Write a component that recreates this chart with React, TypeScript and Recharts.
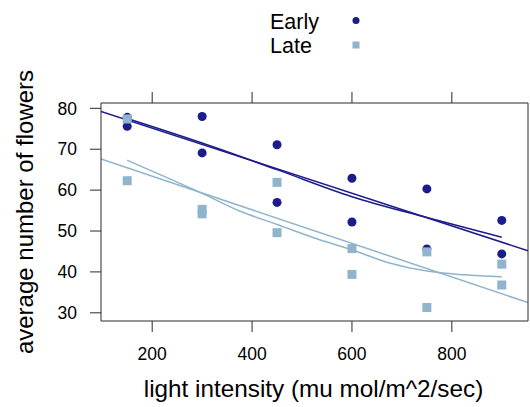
import React from 'react';
import { ComposedChart, Scatter, Line, XAxis, YAxis } from 'recharts';

// Flower counts by light intensity, early vs late timing
const earlyPoints = [
  { x: 150, y: 77.8 }, { x: 150, y: 75.6 },
  { x: 300, y: 69.1 }, { x: 300, y: 78.0 },
  { x: 450, y: 57.0 }, { x: 450, y: 71.1 },
  { x: 600, y: 62.9 }, { x: 600, y: 52.2 },
  { x: 750, y: 60.3 }, { x: 750, y: 45.6 },
  { x: 900, y: 52.6 }, { x: 900, y: 44.4 },
];

const latePoints = [
  { x: 150, y: 62.3 }, { x: 150, y: 77.4 },
  { x: 300, y: 55.3 }, { x: 300, y: 54.2 },
  { x: 450, y: 49.6 }, { x: 450, y: 61.9 },
  { x: 600, y: 39.4 }, { x: 600, y: 45.7 },
  { x: 750, y: 31.3 }, { x: 750, y: 44.9 },
  { x: 900, y: 36.8 }, { x: 900, y: 41.9 },
];

// least squares lines, read at the panel edges
const earlyFit = [{ x: 97.5, y: 79.26 }, { x: 952.5, y: 45.17 }];
const lateFit = [{ x: 97.5, y: 67.62 }, { x: 952.5, y: 32.5 }];

// loess smooths
const earlySmooth = [
  { x: 150, y: 77.5 }, { x: 300, y: 71.5 }, { x: 450, y: 65.0 },
  { x: 600, y: 58.4 }, { x: 750, y: 53.3 }, { x: 900, y: 48.5 },
];
const lateSmooth = [
  { x: 150, y: 67.3 }, { x: 225, y: 63.3 }, { x: 300, y: 59.2 },
  { x: 375, y: 54.9 }, { x: 450, y: 51.6 }, { x: 525, y: 48.3 },
  { x: 600, y: 45.4 }, { x: 675, y: 42.2 }, { x: 750, y: 40.2 },
  { x: 825, y: 39.3 }, { x: 900, y: 38.8 },
];

const xTicks = [200, 400, 600, 800];
const yTicks = [30, 40, 50, 60, 70, 80];

const EARLY = '#1c1c8c';
const LATE = '#8fb4cc';
const AXIS = '#2a2a2a';
const FONT = '"Liberation Sans", Arial, sans-serif';

const Dot = (p: any) => <circle cx={p.cx} cy={p.cy} r={4.5} fill={EARLY} />;
const Sq = (p: any) => <rect x={p.cx - 4.5} y={p.cy - 4.5} width={9} height={9} fill={LATE} />;

const LegendBox = () => (
  <svg width={530} height={60} style={{ position: 'absolute', left: 0, top: 0, pointerEvents: 'none' }}>
    <text x={270} y={29} fontSize={21.5} fontFamily={FONT} fill="#000">Early</text>
    <circle cx={356} cy={20.5} r={3.5} fill={EARLY} />
    <text x={270} y={53} fontSize={21.5} fontFamily={FONT} fill="#000">Late</text>
    <rect x={352.5} y={41.5} width={7} height={7} fill={LATE} />
  </svg>
);

const App: React.FC = () => {
  return (
    <div style={{ position: 'absolute', left: 0, top: 0, width: 530, height: 407, background: '#fff' }}>
      <ComposedChart width={530} height={407} margin={{ top: 83, right: 0, bottom: 0, left: 0 }}>
        <XAxis
          xAxisId="bottom"
          dataKey="x"
          type="number"
          domain={[97.5, 952.5]}
          ticks={xTicks}
          allowDataOverflow
          height={86}
          stroke={AXIS}
          tickSize={11}
          tickMargin={16}
          tick={{ fill: '#000', fontSize: 17.5, fontFamily: FONT }}
          label={(props: any) => {
            const vb = props.viewBox;
            return (
              <text x={vb.x + vb.width / 2 - 1} y={397} textAnchor="middle" fontSize={24.3} fontFamily={FONT} fill="#000">
                light intensity (mu mol/m^2/sec)
              </text>
            );
          }}
        />
        <XAxis
          xAxisId="top"
          orientation="top"
          dataKey="x"
          type="number"
          domain={[97.5, 952.5]}
          ticks={xTicks}
          allowDataOverflow
          height={20}
          stroke={AXIS}
          tickSize={11}
          tick={() => <g />}
        />
        <YAxis
          yAxisId="left"
          type="number"
          domain={[28, 81.3]}
          ticks={yTicks}
          allowDataOverflow
          width={101}
          stroke={AXIS}
          tickSize={11}
          tickMargin={13}
          tick={{ fill: '#000', fontSize: 17.5, fontFamily: FONT }}
          label={(props: any) => {
            const vb = props.viewBox;
            const cy = vb.y + vb.height / 2;
            return (
              <text x={24} y={cy} transform={`rotate(-90, 24, ${cy})`} textAnchor="middle" dominantBaseline="central" fontSize={24} fontFamily={FONT} fill="#000">
                average number of flowers
              </text>
            );
          }}
        />
        <YAxis yAxisId="right" orientation="right" type="number" domain={[28, 81.3]} width={2} stroke={AXIS} tick={false} tickLine={false} />

        <Scatter xAxisId="bottom" yAxisId="left" data={earlyPoints} dataKey="y" shape={Dot} isAnimationActive={false} />
        <Line xAxisId="bottom" yAxisId="left" data={earlyFit} dataKey="y" type="linear" stroke={EARLY} strokeWidth={1.5} dot={false} activeDot={false} isAnimationActive={false} />
        <Line xAxisId="bottom" yAxisId="left" data={earlySmooth} dataKey="y" type="monotone" stroke={EARLY} strokeWidth={1.5} dot={false} activeDot={false} isAnimationActive={false} />
        <Scatter xAxisId="bottom" yAxisId="left" data={latePoints} dataKey="y" shape={Sq} isAnimationActive={false} />
        <Line xAxisId="bottom" yAxisId="left" data={lateFit} dataKey="y" type="linear" stroke={LATE} strokeWidth={1.5} dot={false} activeDot={false} isAnimationActive={false} />
        <Line xAxisId="bottom" yAxisId="left" data={lateSmooth} dataKey="y" type="monotone" stroke={LATE} strokeWidth={1.5} dot={false} activeDot={false} isAnimationActive={false} />
      </ComposedChart>
      <LegendBox />
    </div>
  );
};

export default App;
